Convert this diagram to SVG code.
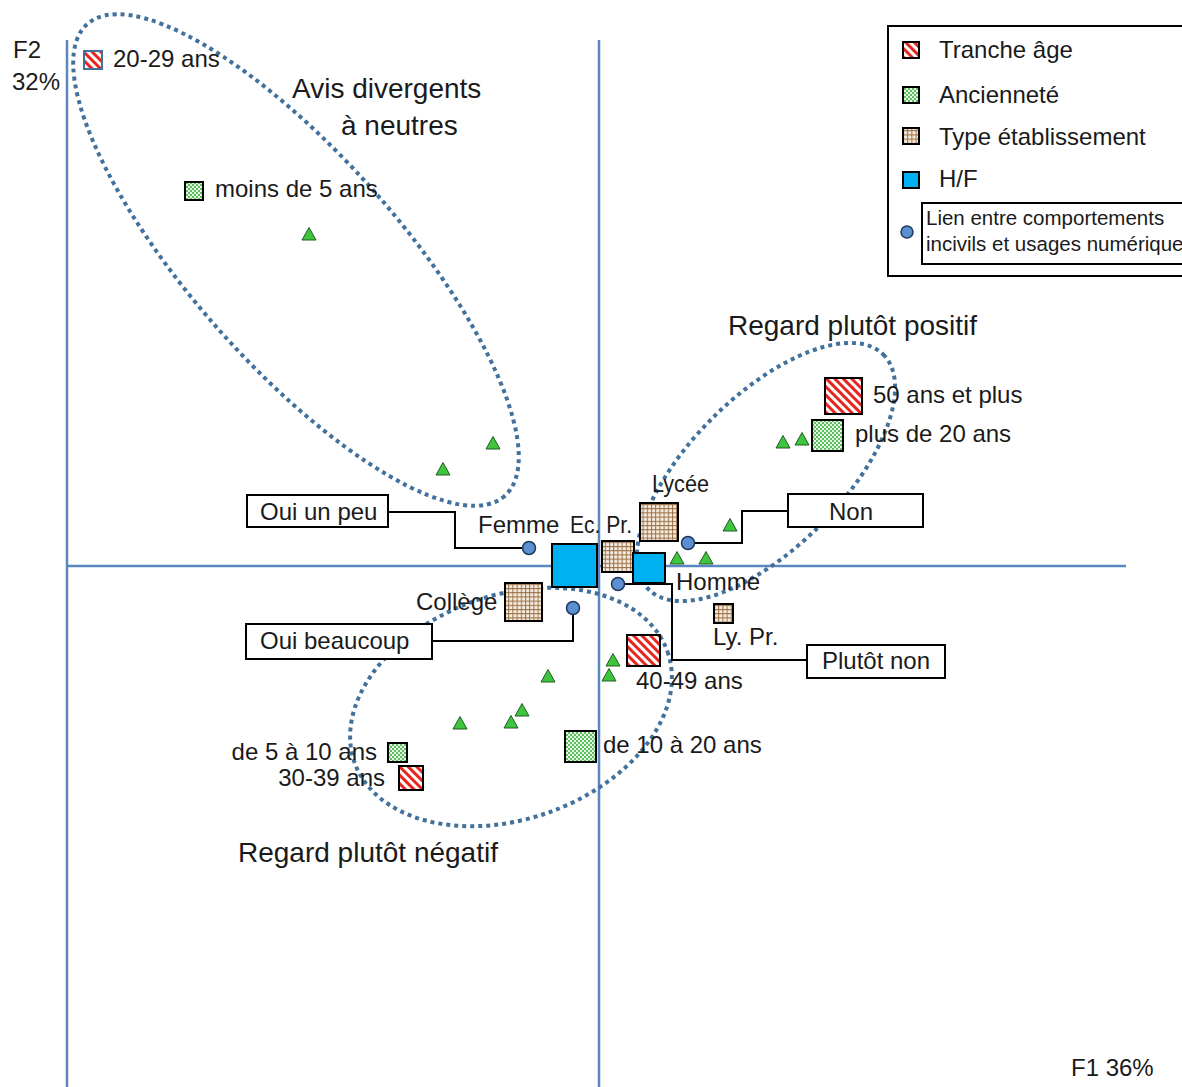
<svg xmlns="http://www.w3.org/2000/svg" width="1182" height="1087" viewBox="0 0 1182 1087">
<style>
text{font-family:"Liberation Sans",Arial,sans-serif;fill:#1a1a1a;font-size:24px}
.t{font-size:28px}
.lg{font-size:24px}
.sm{font-size:20.5px}
.ax{stroke:#5b87c0;stroke-width:2.5;fill:none}
.el{fill:none;stroke:#41719c;stroke-width:4;stroke-dasharray:4 4}
.box{fill:#fff;stroke:#000;stroke-width:2}
.con{fill:none;stroke:#000;stroke-width:2}
.tri{fill:#3ec43e;stroke:#1e5e1e;stroke-width:1}
.dot{fill:#5b8fd0;stroke:#1f3a5c;stroke-width:1.5}
.age{fill:url(#stripes);stroke:#000;stroke-width:2}
.anc{fill:url(#checker);stroke:#000;stroke-width:2}
.etab{fill:url(#grid);stroke:#000;stroke-width:2}
.hf{fill:#00b0f0;stroke:#000;stroke-width:2}
</style>
<defs>
<pattern id="stripes" patternUnits="userSpaceOnUse" width="6" height="6" patternTransform="rotate(45)">
<rect width="6" height="6" fill="#fff"/>
<rect y="0" width="6" height="3" fill="#e8251e"/>
</pattern>
<pattern id="checker" patternUnits="userSpaceOnUse" width="4" height="4">
<rect width="4" height="4" fill="#e6f5e6"/>
<rect width="2" height="2" fill="#5cbf5c"/>
<rect x="2" y="2" width="2" height="2" fill="#5cbf5c"/>
</pattern>
<pattern id="grid" patternUnits="userSpaceOnUse" width="4.2" height="4.2">
<rect width="4.2" height="4.2" fill="#f5ecdf"/>
<path d="M0 0.5H4.2M0.5 0V4.2" stroke="#9a6f45" stroke-width="1"/>
</pattern>
<polygon id="triShape" points="0,-6.5 7,6 -7,6"/>
</defs>
<rect width="1182" height="1087" fill="#fff"/>

<g id="axes">
<line class="ax" x1="67" y1="40" x2="67" y2="1087"/>
<line class="ax" x1="599" y1="40" x2="599" y2="1087"/>
<line class="ax" x1="67" y1="566" x2="1126" y2="566"/>
<text x="13" y="58" class="lg">F2</text>
<text x="12" y="90" class="lg">32%</text>
<text x="1071" y="1076" font-size="22">F1 36%</text>
</g>

<g id="groups">
<ellipse class="el" cx="296" cy="260" rx="315" ry="104" transform="rotate(48.5 296 260)"/>
<ellipse class="el" cx="766" cy="472" rx="166" ry="76" transform="rotate(-45 766 472)"/>
<ellipse class="el" cx="511" cy="707" rx="166" ry="112" transform="rotate(-19.5 511 707)"/>
<text x="292" y="98" class="t">Avis divergents</text>
<text x="341" y="135" class="t">à neutres</text>
<text x="728" y="335" class="t">Regard plutôt positif</text>
<text x="238" y="862" class="t">Regard plutôt négatif</text>
</g>

<g id="triangles">
<use href="#triShape" class="tri" x="309" y="234"/>
<use href="#triShape" class="tri" x="493" y="443"/>
<use href="#triShape" class="tri" x="443" y="469"/>
<use href="#triShape" class="tri" x="783" y="442"/>
<use href="#triShape" class="tri" x="802" y="439"/>
<use href="#triShape" class="tri" x="730" y="525"/>
<use href="#triShape" class="tri" x="677" y="558"/>
<use href="#triShape" class="tri" x="706" y="558"/>
<use href="#triShape" class="tri" x="548" y="676"/>
<use href="#triShape" class="tri" x="613" y="660"/>
<use href="#triShape" class="tri" x="609" y="675"/>
<use href="#triShape" class="tri" x="522" y="710"/>
<use href="#triShape" class="tri" x="511" y="722"/>
<use href="#triShape" class="tri" x="460" y="723"/>
</g>

<g id="connectors">
<polyline class="con" points="388,512 455,512 455,548 523,548"/>
<polyline class="con" points="788,511 742,511 742,543 695,543"/>
<polyline class="con" points="807,660 672,660 672,584 624,584"/>
<polyline class="con" points="432,641 573,641 573,615"/>
</g>

<g id="n-20-29">
<rect class="age" x="84" y="51" width="18" height="18" style="stroke:#41719c"/>
<text x="113" y="67">20-29 ans</text>
</g>
<g id="n-moins5">
<rect class="anc" x="185" y="182" width="18" height="18"/>
<text x="215" y="197">moins de 5 ans</text>
</g>
<g id="n-50plus">
<rect class="age" x="825" y="378" width="37" height="36"/>
<text x="873" y="403">50 ans et plus</text>
</g>
<g id="n-plus20">
<rect class="anc" x="812" y="420" width="31" height="31"/>
<text x="855" y="442">plus de 20 ans</text>
</g>
<g id="n-lycee">
<rect class="etab" x="640" y="503" width="38" height="38"/>
<text x="652" y="492" textLength="57" lengthAdjust="spacingAndGlyphs">Lycée</text>
</g>
<g id="n-ecpr">
<rect class="etab" x="602" y="541" width="32" height="31"/>
<text x="570" y="533" textLength="62" lengthAdjust="spacingAndGlyphs">Ec. Pr.</text>
</g>
<g id="n-femme">
<rect class="hf" x="552" y="544" width="45" height="43"/>
<text x="478" y="533">Femme</text>
</g>
<g id="n-homme">
<rect class="hf" x="633" y="553" width="32" height="30"/>
<text x="676" y="590">Homme</text>
</g>
<g id="n-college">
<rect class="etab" x="505" y="583" width="37" height="38"/>
<text x="416" y="610">Collège</text>
</g>
<g id="n-lypr">
<rect class="etab" x="714" y="604" width="19" height="19"/>
<text x="713" y="645">Ly. Pr.</text>
</g>
<g id="n-40-49">
<rect class="age" x="627" y="635" width="33" height="31"/>
<text x="636" y="689">40-49 ans</text>
</g>
<g id="n-10-20">
<rect class="anc" x="565" y="731" width="31" height="31"/>
<text x="603" y="753">de 10 à 20 ans</text>
</g>
<g id="n-5-10">
<rect class="anc" x="388" y="743" width="19" height="19"/>
<text x="377" y="760" text-anchor="end">de 5 à 10 ans</text>
</g>
<g id="n-30-39">
<rect class="age" x="399" y="766" width="24" height="24"/>
<text x="385" y="786" text-anchor="end">30-39 ans</text>
</g>

<g id="n-oui-un-peu">
<rect class="box" x="247" y="495" width="141" height="32"/>
<text x="260" y="520">Oui un peu</text>
<circle class="dot" cx="529" cy="548" r="6.5"/>
</g>
<g id="n-non">
<rect class="box" x="788" y="494" width="135" height="33"/>
<text x="851" y="520" text-anchor="middle">Non</text>
<circle class="dot" cx="688" cy="543" r="6.5"/>
</g>
<g id="n-plutot-non">
<rect class="box" x="807" y="645" width="138" height="33"/>
<text x="876" y="669" text-anchor="middle">Plutôt non</text>
<circle class="dot" cx="618" cy="584" r="6.5"/>
</g>
<g id="n-oui-beaucoup">
<rect class="box" x="246" y="624" width="186" height="35"/>
<text x="260" y="649">Oui beaucoup</text>
<circle class="dot" cx="573" cy="608" r="6.5"/>
</g>

<g id="legend">
<rect x="888" y="26" width="300" height="250" fill="#fff" stroke="#000" stroke-width="2"/>
<rect class="age" x="903" y="42" width="16" height="16"/>
<text x="939" y="58" class="lg">Tranche âge</text>
<rect class="anc" x="903" y="87" width="16" height="16"/>
<text x="939" y="103" class="lg">Ancienneté</text>
<rect class="etab" x="903" y="128" width="16" height="16"/>
<text x="939" y="145" class="lg">Type établissement</text>
<rect class="hf" x="903" y="172" width="16" height="16"/>
<text x="939" y="187" class="lg">H/F</text>
<circle class="dot" cx="907" cy="232" r="6"/>
<rect x="922" y="203" width="270" height="61" fill="#fff" stroke="#000" stroke-width="2"/>
<text x="926" y="225" class="sm">Lien entre comportements</text>
<text x="926" y="251" class="sm">incivils et usages numérique</text>
</g>
</svg>
